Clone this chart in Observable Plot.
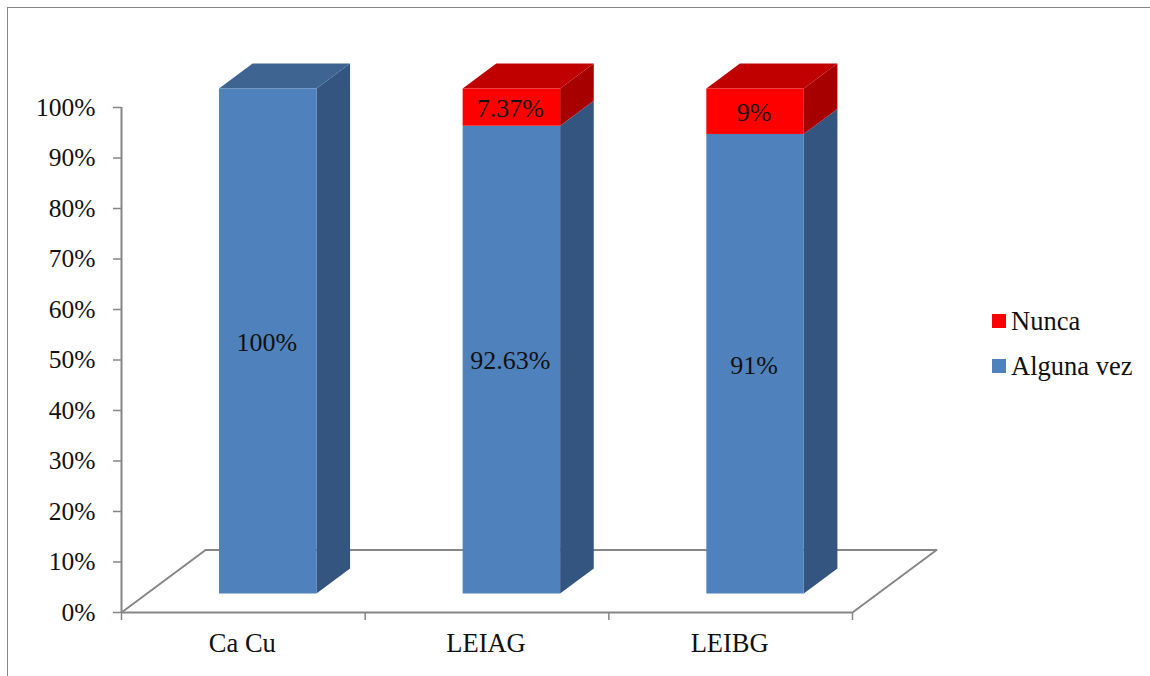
<!DOCTYPE html>
<html lang="es">
<head>
<meta charset="utf-8">
<title>Nunca / Alguna vez</title>
<script src="https://cdn.jsdelivr.net/npm/d3@7"></script>
<script src="https://cdn.jsdelivr.net/npm/@observablehq/plot@0.6"></script>
<style>
  html, body { margin: 0; padding: 0; background: #fff; overflow: hidden; }
  #chart { position: relative; width: 1150px; height: 676px; font-family: "Liberation Serif", serif; color: #111; }
  #chart svg { display: block; position: absolute; left: 0; top: 0; background: transparent; }
  /* Outer chart border: only the top and left edges are visible */
  #border { position: absolute; left: 7px; top: 7px; right: -4px; bottom: -4px; border: 1.5px solid #868686; }
  .legend-item { position: absolute; left: 992px; display: flex; align-items: center; gap: 5px; font-size: 26.5px; line-height: 14px; height: 14px; }
  .swatch { width: 14px; height: 14px; display: inline-block; }
</style>
</head>
<body>
<div id="chart"><div id="border"></div></div>
<script>
const categories = ["Ca Cu", "LEIAG", "LEIBG"];
const algunaVez = [100, 92.63, 91];
const nunca = [0, 7.37, 9];
const algunaLabels = ["100%", "92.63%", "91%"];
const nuncaLabels = ["", "7.37%", "9%"];
const percentTicks = [0, 10, 20, 30, 40, 50, 60, 70, 80, 90, 100];

// Oblique projection: depth 1 is the back edge of the floor
const obliqueX = 0.345;
const obliqueY = 12.376;
const barFront = 0.296;
const barBack = 0.696;
const barHalf = 0.2;

const shades = {
  blue: {front: "#4f81bd", side: "#335580", top: "#3e6492"},
  red: {front: "#ff0000", side: "#a60000", top: "#c00000"}
};
const grey = "#868686";

const px = (c, depth) => c + depth * obliqueX;
const py = (v, depth) => v + depth * obliqueY;

// Stacked segments of each column
const segments = categories.flatMap((name, i) => {
  const c = i + 0.5;
  const parts = [{v0: 0, v1: algunaVez[i], shade: shades.blue, label: algunaLabels[i]}];
  if (nunca[i] > 0) parts.push({v0: algunaVez[i], v1: algunaVez[i] + nunca[i], shade: shades.red, label: nuncaLabels[i]});
  return parts.map((p, j) => ({...p, id: `${name}-${j}`, c, last: j === parts.length - 1}));
});

// A parallelogram per right-hand face, with its outline traced as an area
const sideRows = segments.flatMap(s => [barFront, barBack].map(d => ({
  id: s.id, x: px(s.c + barHalf, d), y1: py(s.v0, d), y2: py(s.v1, d), fill: s.shade.side
})));

// Top face of the uppermost segment of each column
const topRows = segments.filter(s => s.last).flatMap(s => {
  const l = s.c - barHalf, r = s.c + barHalf;
  return [
    {x: px(l, barFront), y1: py(s.v1, barFront), y2: py(s.v1, barFront)},
    {x: px(l, barBack), y1: py(s.v1, barFront), y2: py(s.v1, barBack)},
    {x: px(r, barFront), y1: py(s.v1, barFront), y2: py(s.v1, barBack)},
    {x: px(r, barBack), y1: py(s.v1, barBack), y2: py(s.v1, barBack)}
  ].map(p => ({...p, id: s.id, fill: s.shade.top}));
});

const frontRows = segments.map(s => ({
  x1: px(s.c - barHalf, barFront), x2: px(s.c + barHalf, barFront),
  y1: py(s.v0, barFront), y2: py(s.v1, barFront), fill: s.shade.front,
  label: s.label, lx: px(s.c, barFront), ly: py((s.v0 + s.v1) / 2, barFront)
}));

const floorOutline = [[0, 0], [obliqueX, obliqueY], [3 + obliqueX, obliqueY], [3, 0]];

const plot = Plot.plot({
  width: 1150,
  height: 676,
  marginLeft: 121,
  marginRight: 298,
  marginTop: 107,
  marginBottom: 64,
  x: {type: "linear", domain: [0, 3]},
  y: {type: "linear", domain: [0, 100]},
  color: {type: "identity"},
  style: {fontFamily: "'Liberation Serif', serif", fontSize: "26px", color: "#111", background: "transparent", overflow: "visible"},
  marks: [
    Plot.line(floorOutline, {x: d => d[0], y: d => d[1], stroke: grey, strokeWidth: 2}),
    Plot.ruleX([0], {y1: 0, y2: 100, stroke: grey, strokeWidth: 2}),
    Plot.ruleY([0], {x1: 0, x2: 3, stroke: grey, strokeWidth: 2}),
    Plot.axisY(percentTicks, {tickFormat: d => d + "%", tickSize: 8, tickPadding: 18, stroke: grey, strokeWidth: 1.5, fill: "#111", label: null, fontSize: 25.5}),
    Plot.axisX([0, 1, 2, 3], {tickFormat: () => "", tickSize: 8, stroke: grey, strokeWidth: 1.5, label: null}),
    Plot.axisX([0.5, 1.5, 2.5], {tickFormat: d => categories[d - 0.5], tickSize: 0, tickPadding: 21, fill: "#111", label: null, fontSize: 26.5, dx: -1}),
    Plot.area(sideRows, {x1: "x", y1: "y1", y2: "y2", z: "id", fill: "fill"}),
    Plot.area(topRows, {x1: "x", y1: "y1", y2: "y2", z: "id", fill: "fill"}),
    Plot.rect(frontRows, {x1: "x1", x2: "x2", y1: "y1", y2: "y2", fill: "fill"}),
    Plot.text(frontRows, {x: "lx", y: "ly", text: "label", fill: "#111", fontSize: 26, dx: -1.5, dy: 1})
  ]
});

const chart = document.getElementById("chart");
chart.appendChild(plot);

// Legend beside the plot, red series first
[["Nunca", shades.red.front, 314], ["Alguna vez", shades.blue.front, 359]].forEach(([name, color, top]) => {
  const item = document.createElement("div");
  item.className = "legend-item";
  item.style.top = top + "px";
  const swatch = document.createElement("span");
  swatch.className = "swatch";
  swatch.style.background = color;
  const text = document.createElement("span");
  text.textContent = name;
  item.append(swatch, text);
  chart.appendChild(item);
});
</script>
</body>
</html>
